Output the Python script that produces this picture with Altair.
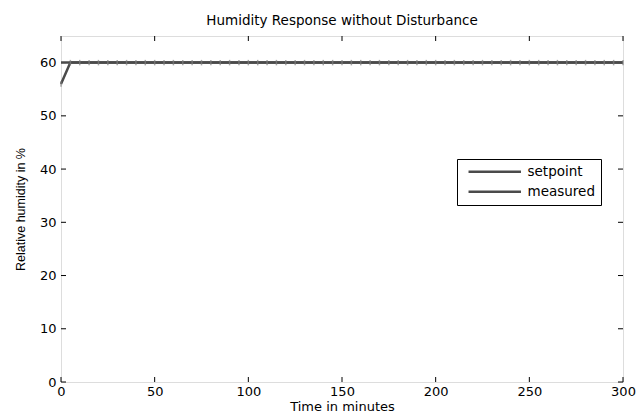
import altair as alt
import pandas as pd

time_setpoint = [0, 300]
setpoint = [60, 60]

time_measured = [0, 5, 10, 15, 20, 25, 30, 35, 40, 45, 50, 55, 60, 65, 70, 75, 80, 85, 90, 95,
                 100, 105, 110, 115, 120, 125, 130, 135, 140, 145, 150, 155, 160, 165, 170, 175,
                 180, 185, 190, 195, 200, 205, 210, 215, 220, 225, 230, 235, 240, 245, 250, 255,
                 260, 265, 270, 275, 280, 285, 290, 295, 300]
measured = [56.0, 60, 60, 60, 60, 60, 60, 60, 60, 60, 60, 60, 60, 60, 60, 60, 60, 60, 60, 60,
            60, 60, 60, 60, 60, 60, 60, 60, 60, 60, 60, 60, 60, 60, 60, 60, 60, 60, 60, 60,
            60, 60, 60, 60, 60, 60, 60, 60, 60, 60, 60, 60, 60, 60, 60, 60, 60, 60, 60, 60, 60]

x_ticks = [0, 50, 100, 150, 200, 250, 300]
y_ticks = [0, 10, 20, 30, 40, 50, 60]

FONT = "Liberation Sans"
WIDE = "DejaVu Sans"
GREY = "#4a4a4a"
W, H = 562, 346

df_sp = pd.DataFrame({"t": time_setpoint, "v": setpoint, "series": "setpoint"})
df_me = pd.DataFrame({"t": time_measured, "v": measured, "series": "measured"})
df_xt = pd.DataFrame({"t": x_ticks})
df_yt = pd.DataFrame({"v": y_ticks})

xs = alt.Scale(domain=[0, 300], nice=False, zero=False)
ys = alt.Scale(domain=[0, 65], nice=False, zero=False)

color = alt.Color(
    "series:N",
    scale=alt.Scale(domain=["setpoint", "measured"], range=[GREY, GREY]),
    legend=alt.Legend(
        title=None, orient="none", legendX=396, legendY=123,
        symbolType="M-5,0H5", symbolSize=110, symbolStrokeWidth=2.5,
        labelFont=WIDE, labelFontSize=13.5, labelColor="black",
        strokeColor="black", fillColor="white", padding=6, rowPadding=5,
        labelOffset=26, symbolOffset=25,
    ),
)

xaxis = alt.Axis(values=x_ticks, title="Time in minutes", tickSize=0, domain=False,
                 grid=False, labelFont=WIDE, labelFontSize=13, labelColor="black",
                 labelPadding=3, titleFont=WIDE, titleFontSize=13, titleFontWeight="normal",
                 titleColor="black", titlePadding=2, labelFlush=False)
yaxis = alt.Axis(values=y_ticks, title="Relative humidity in %", tickSize=0, domain=False,
                 grid=False, labelFont=WIDE, labelFontSize=13, labelColor="black",
                 labelPadding=5, titleFont=FONT, titleFontSize=12.5, titleFontWeight="normal",
                 titleColor="black", titlePadding=12)

sp_line = alt.Chart(df_sp).mark_line(strokeWidth=2.5).encode(
    x=alt.X("t:Q", scale=xs, axis=xaxis),
    y=alt.Y("v:Q", scale=ys, axis=yaxis),
    color=color,
)
me_line = alt.Chart(df_me).mark_line(strokeWidth=2.5).encode(
    x=alt.X("t:Q", scale=xs), y=alt.Y("v:Q", scale=ys), color=color,
)
me_pts = alt.Chart(df_me).mark_point(shape="M0,-1V1", size=30, strokeWidth=1.5,
                                     color="#808080").encode(
    x=alt.X("t:Q", scale=xs), y=alt.Y("v:Q", scale=ys),
)

tick_len = 5
xt_bot = alt.Chart(df_xt).mark_rule(color="black", strokeWidth=1).encode(
    x=alt.X("t:Q", scale=xs), y=alt.value(H - tick_len), y2=alt.value(H))
xt_top = alt.Chart(df_xt).mark_rule(color="black", strokeWidth=1).encode(
    x=alt.X("t:Q", scale=xs), y=alt.value(0), y2=alt.value(tick_len))
yt_left = alt.Chart(df_yt).mark_rule(color="black", strokeWidth=1).encode(
    y=alt.Y("v:Q", scale=ys), x=alt.value(0), x2=alt.value(tick_len))
yt_right = alt.Chart(df_yt).mark_rule(color="black", strokeWidth=1).encode(
    y=alt.Y("v:Q", scale=ys), x=alt.value(W - tick_len), x2=alt.value(W))

chart = alt.layer(xt_bot, xt_top, yt_left, yt_right, sp_line, me_line, me_pts).properties(
    width=W, height=H,
    title=alt.TitleParams("Humidity Response without Disturbance", font=WIDE, fontSize=13.5,
                          fontWeight="normal", color="black", anchor="middle", offset=8),
    autosize=alt.AutoSizeParams(type="none"),
    padding={"left": 61, "top": 36, "right": 14, "bottom": 35},
).configure_view(stroke="black", strokeWidth=1.5).configure(background="white")

chart.save("out.html", embed_options={"renderer": "svg", "actions": False})
